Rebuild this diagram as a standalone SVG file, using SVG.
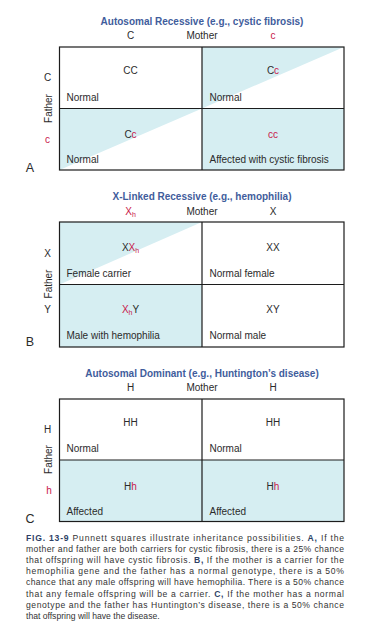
<svg xmlns="http://www.w3.org/2000/svg" width="368" height="628" viewBox="0 0 368 628">
<style>
text{font-family:"Liberation Sans",Arial,sans-serif;fill:#2b2b2b}
.title{font-size:10px;font-weight:bold;fill:#3f5d9c;text-anchor:middle}
.hdr{font-size:10px;text-anchor:middle}
.geno{font-size:10px;text-anchor:middle}
.lbl{font-size:10px}
.r{fill:#c8184a}
.sub{font-size:7px}
.panel{font-size:12.5px;text-anchor:middle}
.grid{fill:none;stroke:#1c1c1c;stroke-width:1.2}
.fill{fill:#d6eef2}
.cap{font-size:8.6px;fill:#333}
.b{font-weight:bold;fill:#2e3f66}
</style>

<!-- Panel A -->
<g id="panelA">
  <text class="title" x="202" y="24.5">Autosomal Recessive (e.g., cystic fibrosis)</text>
  <text class="hdr" x="130.5" y="38.5">C</text>
  <text class="hdr" x="202" y="38.5">Mother</text>
  <text class="hdr r" x="273" y="38.5">c</text>
  <text class="hdr" transform="translate(51.5,108.5) rotate(-90)">Father</text>
  <text class="hdr" x="47.5" y="80.5">C</text>
  <text class="hdr r" x="47.5" y="142.5">c</text>
  <text class="panel" x="30" y="171.5">A</text>
  <g id="A11"><text class="geno" x="130.5" y="74">CC</text><text class="lbl" x="66.5" y="100.5">Normal</text></g>
  <g id="A12"><polygon class="fill" points="202,47 344,47 202,108.5"/><text class="geno" x="273" y="74">C<tspan class="r">c</tspan></text><text class="lbl" x="209.5" y="100.5">Normal</text></g>
  <g id="A21"><polygon class="fill" points="59.5,108.5 202,108.5 59.5,170"/><text class="geno" x="130.5" y="137.5">C<tspan class="r">c</tspan></text><text class="lbl" x="66.5" y="162.5">Normal</text></g>
  <g id="A22"><rect class="fill" x="202" y="108.5" width="142" height="61.5"/><text class="geno r" x="273" y="137.5">cc</text><text class="lbl" x="209.5" y="162.5">Affected with cystic fibrosis</text></g>
  <rect class="grid" x="59.5" y="47" width="284.5" height="123"/>
  <path class="grid" d="M202,47V170M59.5,108.5H344"/>
</g>

<!-- Panel B -->
<g id="panelB">
  <text class="title" x="202" y="199.5">X-Linked Recessive (e.g., hemophilia)</text>
  <text class="hdr r" x="130.5" y="215">X<tspan class="sub" dy="2">h</tspan></text>
  <text class="hdr" x="202" y="215">Mother</text>
  <text class="hdr" x="273" y="215">X</text>
  <text class="hdr" transform="translate(51.5,284) rotate(-90)">Father</text>
  <text class="hdr" x="47.5" y="256.5">X</text>
  <text class="hdr" x="47.5" y="312.5">Y</text>
  <text class="panel" x="30" y="345.5">B</text>
  <g id="B11"><polygon class="fill" points="59.5,222 202,222 59.5,284.5"/><text class="geno" x="130.5" y="251">X<tspan class="r">X<tspan class="sub" dy="2">h</tspan></tspan></text><text class="lbl" x="66.5" y="276.5">Female carrier</text></g>
  <g id="B12"><text class="geno" x="273" y="251">XX</text><text class="lbl" x="209.5" y="276.5">Normal female</text></g>
  <g id="B21"><rect class="fill" x="59.5" y="284.5" width="142.5" height="62.5"/><text class="geno" x="130.5" y="312.5"><tspan class="r">X<tspan class="sub" dy="2">h</tspan></tspan><tspan dy="-2">Y</tspan></text><text class="lbl" x="66.5" y="338.5">Male with hemophilia</text></g>
  <g id="B22"><text class="geno" x="273" y="312.5">XY</text><text class="lbl" x="209.5" y="338.5">Normal male</text></g>
  <rect class="grid" x="59.5" y="222" width="284.5" height="125"/>
  <path class="grid" d="M202,222V347M59.5,284.5H344"/>
</g>

<!-- Panel C -->
<g id="panelC">
  <text class="title" x="202" y="376.5">Autosomal Dominant (e.g., Huntington’s disease)</text>
  <text class="hdr" x="130.5" y="390.5">H</text>
  <text class="hdr" x="202" y="390.5">Mother</text>
  <text class="hdr" x="273" y="390.5">H</text>
  <text class="hdr" transform="translate(51.5,459.5) rotate(-90)">Father</text>
  <text class="hdr" x="47.5" y="433">H</text>
  <text class="hdr r" x="49" y="494">h</text>
  <text class="panel" x="30" y="522.5">C</text>
  <g id="C11"><text class="geno" x="130.5" y="426">HH</text><text class="lbl" x="66.5" y="451.5">Normal</text></g>
  <g id="C12"><text class="geno" x="273" y="426">HH</text><text class="lbl" x="209.5" y="451.5">Normal</text></g>
  <g id="C21"><rect class="fill" x="59.5" y="460" width="142.5" height="61.5"/><text class="geno" x="130.5" y="489.5">H<tspan class="r">h</tspan></text><text class="lbl" x="66.5" y="515">Affected</text></g>
  <g id="C22"><rect class="fill" x="202" y="460" width="142" height="61.5"/><text class="geno" x="273" y="489.5">H<tspan class="r">h</tspan></text><text class="lbl" x="209.5" y="515">Affected</text></g>
  <rect class="grid" x="59.5" y="399" width="284.5" height="122.5"/>
  <path class="grid" d="M202,399V521.5M59.5,460H344"/>
</g>

<!-- Caption -->
<g id="caption">
  <text class="cap" x="26" y="540.5" textLength="318" lengthAdjust="spacing"><tspan class="b">FIG. 13-9</tspan> Punnett squares illustrate inheritance possibilities. <tspan class="b">A,</tspan> If the</text>
  <text class="cap" x="26" y="551.7" textLength="318" lengthAdjust="spacing">mother and father are both carriers for cystic fibrosis, there is a 25% chance</text>
  <text class="cap" x="26" y="562.9" textLength="318" lengthAdjust="spacing">that offspring will have cystic fibrosis. <tspan class="b">B,</tspan> If the mother is a carrier for the</text>
  <text class="cap" x="26" y="574.1" textLength="318" lengthAdjust="spacing">hemophilia gene and the father has a normal genotype, there is a 50%</text>
  <text class="cap" x="26" y="585.3" textLength="318" lengthAdjust="spacing">chance that any male offspring will have hemophilia. There is a 50% chance</text>
  <text class="cap" x="26" y="596.5" textLength="318" lengthAdjust="spacing">that any female offspring will be a carrier. <tspan class="b">C,</tspan> If the mother has a normal</text>
  <text class="cap" x="26" y="607.7" textLength="318" lengthAdjust="spacing">genotype and the father has Huntington’s disease, there is a 50% chance</text>
  <text class="cap" x="26" y="618.9">that offspring will have the disease.</text>
</g>
</svg>
